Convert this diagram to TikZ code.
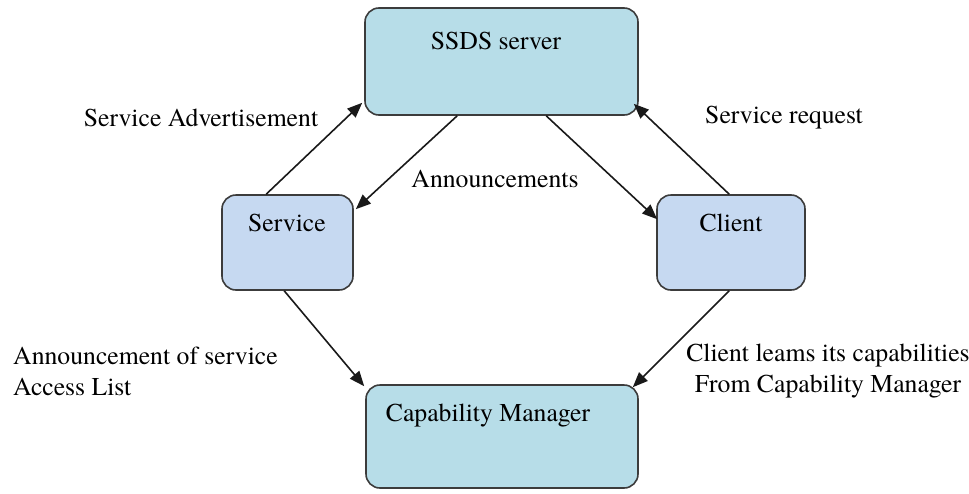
\documentclass[tikz,border=0pt]{standalone}
\usepackage{fontspec}
\newfontfamily\tnr{TeX Gyre Termes}
\usetikzlibrary{arrows.meta,calc}
\definecolor{aquafill}{HTML}{B7DDE8}
\definecolor{bluefill}{HTML}{C6D9F1}
\definecolor{edgegray}{HTML}{3C3C3C}
\begin{document}
\begin{tikzpicture}[x=1pt,y=-1pt,
  box/.style={draw=edgegray, line width=1.6pt, rounded corners=14pt, inner sep=0pt},
  bigbox/.style={box, fill=aquafill},
  smallbox/.style={box, fill=bluefill},
  txt/.style={font=\tnr\fontsize{25.7}{31}\selectfont, inner sep=0pt},
  conn/.style={line width=1.6pt, draw=black!90, -{Triangle[length=15pt,width=12pt]}}]
\useasboundingbox (0,0) rectangle (969,493);
% boxes
\node[bigbox, minimum width=273pt, minimum height=107pt] (ssds) at (501.5,61.5) {};
\node[smallbox, minimum width=131pt, minimum height=95pt] (serv) at (287.5,242.5) {};
\node[smallbox, minimum width=148pt, minimum height=95pt] (cli) at (731,242.5) {};
\node[bigbox, minimum width=272pt, minimum height=103pt] (cm) at (502,436.5) {};
% box texts
\node[txt] (ssdst) at (496,41) {SSDS server};
\node[txt] (servt) at (287,223) {Service};
\node[txt] (clit) at (731,223) {Client};
\node[txt] (cmt) at (488,416) {Capability Manager};
% connectors
\draw[conn] ($(serv.north west)+(45,0)$) -- ($(ssds.south west)+(-2,-13)$);
\draw[conn] ($(cli.north west)+(73,0)$) -- ($(ssds.south east)+(-5,-12)$);
\draw[conn] ($(ssds.south west)+(93,0)$) -- ($(serv.north east)+(2,15)$);
\draw[conn] ($(ssds.south west)+(182,0)$) -- ($(cli.north west)+(1,25)$);
\draw[conn] ($(serv.south west)+(63,0)$) -- ($(cm.north west)+(-1,2)$);
\draw[conn] ($(cli.south west)+(73,0)$) -- ($(cm.north east)+(-6,3)$);
% labels
\node[txt] (l1) at (201,118) {Service Advertisement};
\node[txt] (l2) at (784,118) {Service request};
\node[txt] (l3) at (495,179) {Announcements};
\node[txt, align=left, anchor=west] (l4) at (13,371) {Announcement of service\\Access List};
\node[txt, align=center] (l5) at (828,371) {Client leams its capabilities\\From Capability Manager};
\end{tikzpicture}
\end{document}
